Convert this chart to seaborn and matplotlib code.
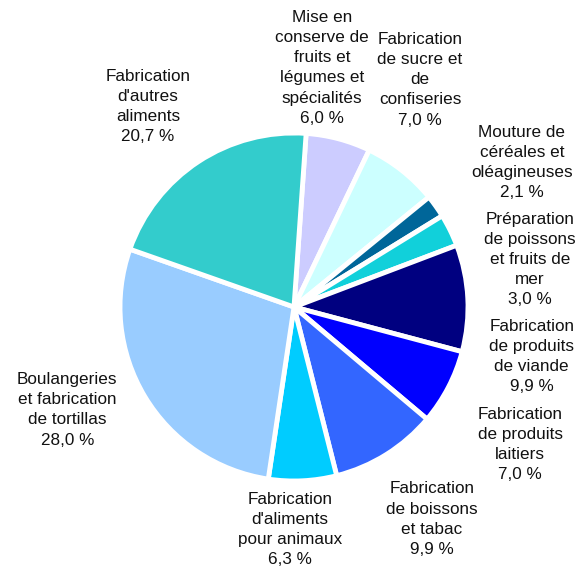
import numpy as np
import seaborn as sns
import matplotlib
matplotlib.use('Agg')
import matplotlib.pyplot as plt

# data, clockwise from the top
labels = ['Mise en\nconserve de\nfruits et\nlégumes et\nspécialités',
          'Fabrication\nde sucre et\nde\nconfiseries',
          'Mouture de\ncéréales et\noléagineuses',
          'Préparation\nde poissons\net fruits de\nmer',
          'Fabrication\nde produits\nde viande',
          'Fabrication\nde produits\nlaitiers',
          'Fabrication\nde boissons\net tabac',
          "Fabrication\nd'aliments\npour animaux",
          'Boulangeries\net fabrication\nde tortillas',
          "Fabrication\nd'autres\naliments"]
shares = [6.0, 7.0, 2.1, 3.0, 9.9, 7.0, 9.9, 6.3, 28.0, 20.7]
colors = ['#CCCCFF', '#CCFFFF', '#006699', '#11D0DA', '#000080',
          '#0000FF', '#3366FF', '#00CCFF', '#99CCFF', '#33CCCC']

# label centres in axes fraction (layout only)
label_pos = [(0.550, 0.881), (0.718, 0.860), (0.892, 0.716), (0.906, 0.545),
             (0.909, 0.375), (0.889, 0.221), (0.738, 0.091), (0.496, 0.072),
             (0.115, 0.282), (0.253, 0.814)]

sns.set_theme(style='white')
plt.rcParams['font.family'] = ['Liberation Sans', 'DejaVu Sans']

W, H = 585, 571
cx, cy, r = 294, 307, 174
fig = plt.figure(figsize=(W / 100, H / 100), dpi=100)
ax = fig.add_axes([0, 0, 1, 1])

ax.pie(shares, colors=colors, startangle=86, counterclock=False,
       wedgeprops=dict(edgecolor='white', linewidth=3.5))
ax.set_xlim(-cx / r, (W - cx) / r)
ax.set_ylim(-(H - cy) / r, cy / r)
ax.set_aspect('equal')
ax.axis('off')

for lab, val, (x, y) in zip(labels, shares, label_pos):
    txt = lab + '\n' + ('%.1f %%' % val).replace('.', ',')
    ax.text(x, y, txt, transform=ax.transAxes, ha='center', va='center',
            fontsize=12.3, color='#111111', linespacing=1.42)

fig.savefig('out.png', dpi=100, facecolor='white')
